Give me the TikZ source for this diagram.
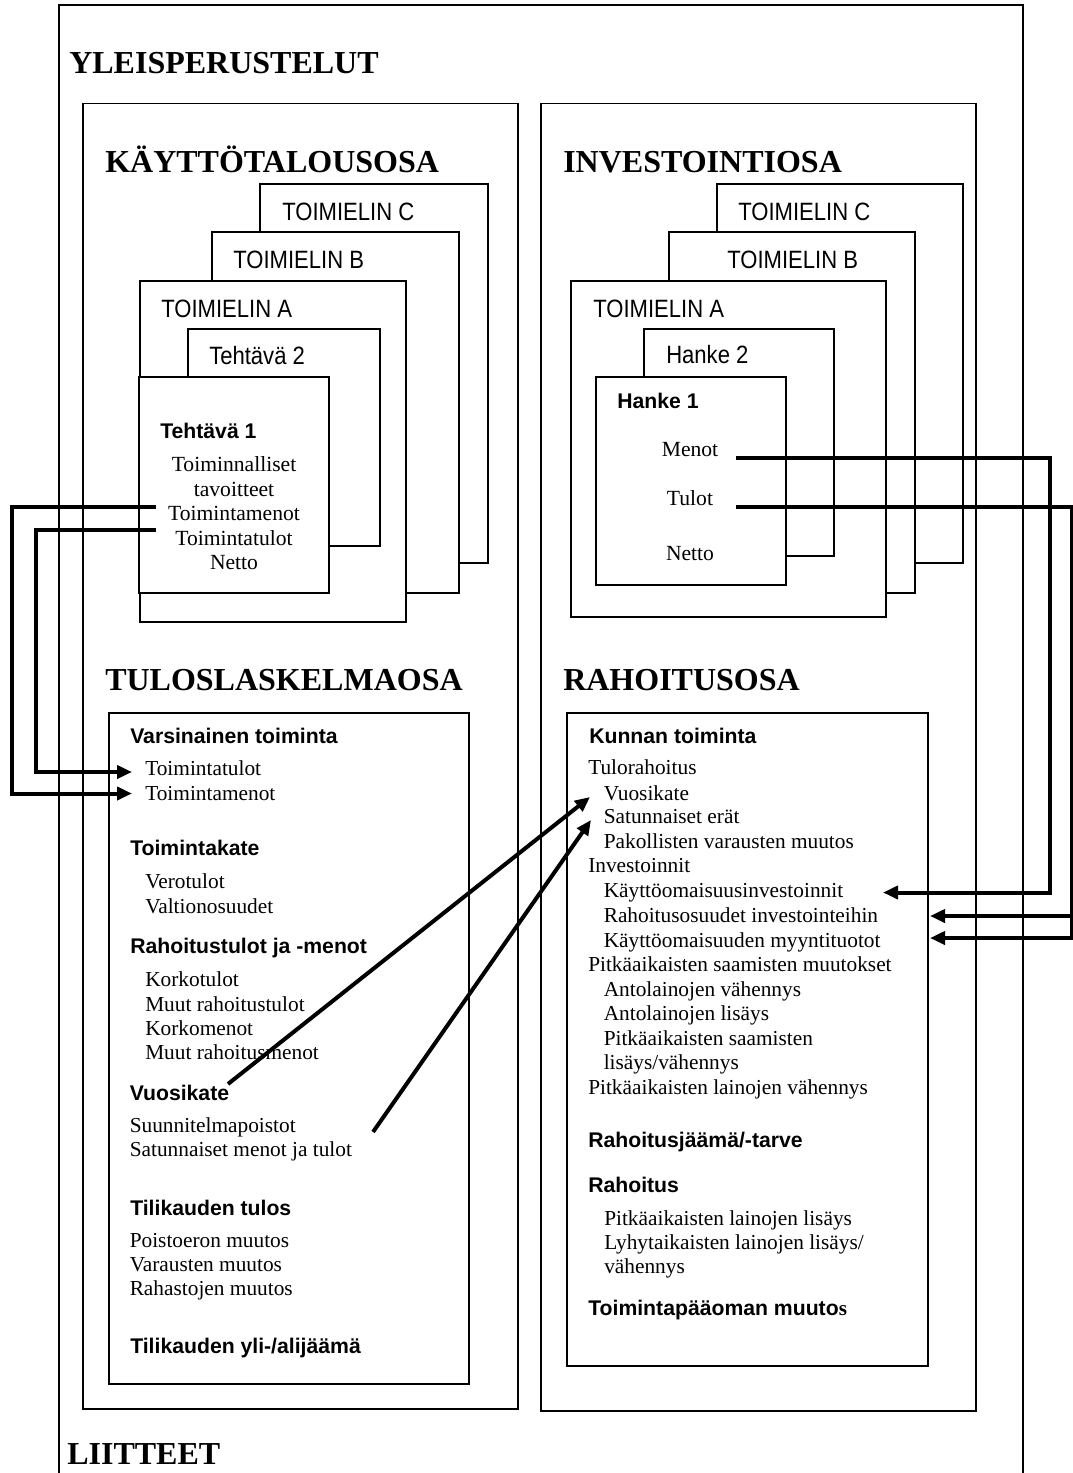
\documentclass[tikz,border=0pt]{standalone}
\usepackage{fontspec}
\setmainfont{Liberation Serif}
\setsansfont{Liberation Sans}
\newfontfamily\narrowsans[FakeStretch=0.88]{Liberation Sans}
\usetikzlibrary{arrows.meta}

\begin{document}
\begin{tikzpicture}[x=0.75pt,y=-0.75pt,
  frame/.style={line width=1.5pt},
  column/.style={draw,line width=1.1pt},
  card/.style={draw,line width=1.1pt,fill=white},
  part/.style={font=\bfseries\fontsize{24}{28}\selectfont,anchor=base west,inner sep=0pt},
  unit/.style={font=\narrowsans\fontsize{18.8}{22}\selectfont,anchor=base west,inner sep=0pt},
  head/.style={font=\sffamily\bfseries\fontsize{15.9}{18}\selectfont,anchor=base west,inner sep=0pt},
  item/.style={font=\fontsize{16}{18}\selectfont,anchor=base west,inner sep=0pt},
  citem/.style={font=\fontsize{16.2}{18}\selectfont,anchor=base,inner sep=0pt},
  lead/.style={line width=3pt},
  flow/.style={line width=3pt,-{Triangle[length=11.25pt,width=9.75pt]}}
]
\useasboundingbox (0,0) rectangle (1072,1473);

% outer frame, open at the bottom
\draw[frame] (59,1480) -- (59,5) -- (1023,5) -- (1023,1480);
\node[part] (yleis) at (69,74) {YLEISPERUSTELUT};
\node[part] (liitteet) at (67,1464) {LIITTEET};

% the two columns
\draw[column] (83,103.5) rectangle (518,1409);
\draw[column] (541,103.5) rectangle (976,1411);
\node[part] (kaytto) at (105,173) {KÄYTTÖTALOUSOSA};
\node[part] (invest) at (563,173) {INVESTOINTIOSA};
\node[part] (tulos) at (105,690) {TULOSLASKELMAOSA};
\node[part] (rahoitus) at (563,690) {RAHOITUSOSA};

% stacked cards: operating budget
\draw[card] (260,184) rectangle (488,563);
\node[unit] (kC) at (282,221) {TOIMIELIN C};
\draw[card] (212,232) rectangle (459,593);
\node[unit] (kB) at (233,268) {TOIMIELIN B};
\draw[card] (140,281) rectangle (406,622);
\node[unit] (kA) at (161,317) {TOIMIELIN A};
\draw[card] (188,329) rectangle (380,546);
\node[unit] (t2) at (209,364) {Tehtävä 2};
\draw[card] (139,377) rectangle (329,593);
\node[head] (t1) at (160,438) {Tehtävä 1};
\node[citem] (t1a) at (234,471.5) {Toiminnalliset};
\node[citem] (t1b) at (234,496) {tavoitteet};
\node[citem] (t1menot) at (234,520.5) {Toimintamenot};
\node[citem] (t1tulot) at (234,545) {Toimintatulot};
\node[citem] (t1netto) at (234,569.5) {Netto};

% stacked cards: investment budget
\draw[card] (717,184) rectangle (963,563);
\node[unit] (iC) at (738,221) {TOIMIELIN C};
\draw[card] (669,232) rectangle (915,593);
\node[unit] (iB) at (727,268) {TOIMIELIN B};
\draw[card] (571,281) rectangle (886,617);
\node[unit] (iA) at (593,317) {TOIMIELIN A};
\draw[card] (644,329) rectangle (834,556);
\node[unit] (h2) at (666,363) {Hanke 2};
\draw[card] (596,377) rectangle (786,585);
\node[head] (h1) at (617,408) {Hanke 1};
\node[citem] (h1menot) at (690,456) {Menot};
\node[citem] (h1tulot) at (690,505) {Tulot};
\node[citem] (h1netto) at (690,560) {Netto};

% income statement
\draw[card] (109,713) rectangle (469,1384);
\node[head] (l1) at (130,743) {Varsinainen toiminta};
\node[item] (lToimTulot) at (145,775) {Toimintatulot};
\node[item] (lToimMenot) at (145,800) {Toimintamenot};
\node[head] (l2) at (130,855.5) {Toimintakate};
\node[item] at (145,888.5) {Verotulot};
\node[item] at (145,913) {Valtionosuudet};
\node[head] (l3) at (130,953.5) {Rahoitustulot ja -menot};
\node[item] at (145,986.5) {Korkotulot};
\node[item] at (145,1011) {Muut rahoitustulot};
\node[item] at (145,1035) {Korkomenot};
\node[item] at (145,1059.5) {Muut rahoitusmenot};
\node[head] (lVuosikate) at (129.5,1100.5) {Vuosikate};
\node[item] (lSuunn) at (129.5,1132.5) {Suunnitelmapoistot};
\node[item] (lSatunn) at (129.5,1156.5) {Satunnaiset menot ja tulot};
\node[head] (l5) at (130,1215) {Tilikauden tulos};
\node[item] at (129.5,1247) {Poistoeron muutos};
\node[item] at (129.5,1271.5) {Varausten muutos};
\node[item] at (129.5,1295.5) {Rahastojen muutos};
\node[head] (l6) at (130,1353.5) {Tilikauden yli-/alijäämä};

% financing statement
\draw[card] (567,713) rectangle (928,1366);
\node[head] (r1) at (589,743) {Kunnan toiminta};
\node[item] at (588,774) {Tulorahoitus};
\node[item] (rVuosikate) at (603.5,800) {Vuosikate};
\node[item] (rSatunn) at (603.5,823.5) {Satunnaiset erät};
\node[item] at (603.5,848) {Pakollisten varausten muutos};
\node[item] at (588,872.5) {Investoinnit};
\node[item] (rKaytto) at (603.5,897) {Käyttöomaisuusinvestoinnit};
\node[item] (rOsuudet) at (603.5,922) {Rahoitusosuudet investointeihin};
\node[item] (rMyynti) at (603.5,947) {Käyttöomaisuuden myyntituotot};
\node[item] at (588,971.5) {Pitkäaikaisten saamisten muutokset};
\node[item] at (603.5,996) {Antolainojen vähennys};
\node[item] at (603.5,1020.5) {Antolainojen lisäys};
\node[item] at (603.5,1045) {Pitkäaikaisten saamisten};
\node[item] at (603.5,1069.5) {lisäys/vähennys};
\node[item] at (588,1094) {Pitkäaikaisten lainojen vähennys};
\node[head] (r2) at (588,1147) {Rahoitusjäämä/-tarve};
\node[head] (r3) at (588,1192) {Rahoitus};
\node[item] at (604,1225) {Pitkäaikaisten lainojen lisäys};
\node[item] at (604,1249) {Lyhytaikaisten lainojen lisäys/};
\node[item] at (604,1273) {vähennys};
\node[head] (r4) at (588,1315) {Toimintapääoman muuto{\rmfamily s}};

% connector end points
\coordinate (tmOut) at (156,507);
\coordinate (ttOut) at (156,530);
\coordinate (ttIn) at (132,772);
\coordinate (tmIn) at (132,793.5);
\coordinate (hmOut) at (736,458);
\coordinate (htOut) at (736,506.5);
\coordinate (kayttoIn) at (883,892.5);
\coordinate (osuusIn) at (930,916);
\coordinate (myyntiIn) at (930,938);
\coordinate (vkOut) at (228,1084);
\coordinate (vkIn) at (590,797);
\coordinate (saOut) at (373,1132);
\coordinate (saIn) at (591,820);

% connectors
\draw[flow] (ttOut) -- (36,530) |- (ttIn);
\draw[flow] (tmOut) -- (12,507) |- (tmIn);
\draw[flow] (hmOut) -- (1050,458) |- (kayttoIn);
\draw[flow] (htOut) -| (1071.5,916) -- (osuusIn);
\draw[flow] (1071.5,914) |- (myyntiIn);
\draw[flow] (vkOut) -- (vkIn);
\draw[flow] (saOut) -- (saIn);
\end{tikzpicture}
\end{document}
